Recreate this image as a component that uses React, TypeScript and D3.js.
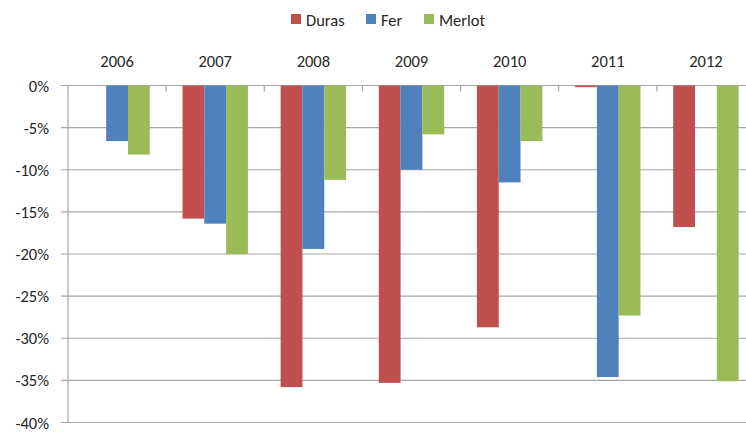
import React from "react";
import * as d3 from "d3";

const years = ["2006", "2007", "2008", "2009", "2010", "2011", "2012"];
const seriesNames = ["Duras", "Fer", "Merlot"];
const duras = [0, -15.8, -35.8, -35.3, -28.7, -0.2, -16.8];
const fer = [-6.6, -16.4, -19.4, -10.0, -11.5, -34.6, 0];
const merlot = [-8.2, -20.0, -11.2, -5.8, -6.6, -27.3, -35.1];
const yTicks = [0, -5, -10, -15, -20, -25, -30, -35, -40];
const colors = ["#C0504D", "#4F81BD", "#9BBB59"];

const W = 746;
const H = 432;
const FONT = "Carlito, Calibri, Lato, sans-serif";
const FS = 16.5;
const TEXT = "#262626";
const GRID = "#A6A6A6";

export default function App() {
  const values = [duras, fer, merlot];

  const x = d3.scaleBand().domain(years).range([68, 755]);
  const y = d3.scaleLinear().domain([0, -40]).range([85.5, 422.5]);

  // Excel-style gap width of 150%
  const barW = x.bandwidth() / 4.5;
  const groupStart = (x.bandwidth() - barW * 3) / 2;

  const legendX = [291, 366, 424];

  return (
    <svg
      width={W}
      height={H}
      style={{ position: "absolute", left: 0, top: 0, background: "#fff" }}
      fontFamily={FONT}
    >
      {/* legend */}
      {seriesNames.map((name, i) => (
        <g key={name}>
          <rect x={legendX[i]} y={14} width={10} height={10} fill={colors[i]} />
          <text x={legendX[i] + 15} y={26} fontSize={FS} fill={TEXT}>
            {name}
          </text>
        </g>
      ))}

      {/* gridlines + y labels */}
      {yTicks.map((t) => (
        <g key={t}>
          <line x1={61} x2={W} y1={y(t)} y2={y(t)} stroke={GRID} strokeWidth={1.2} />
          <text x={49} y={y(t) + 6} textAnchor="end" fontSize={FS} fill={TEXT}>
            {t + "%"}
          </text>
        </g>
      ))}
      <line x1={68} x2={68} y1={y(0)} y2={y(-40)} stroke={GRID} strokeWidth={1.2} />

      {/* category ticks on the zero line */}
      {years.map((yr) => (
        <line
          key={"t" + yr}
          x1={(x(yr) || 0) + x.bandwidth()}
          x2={(x(yr) || 0) + x.bandwidth()}
          y1={y(0)}
          y2={y(0) + 6}
          stroke={GRID}
          strokeWidth={1.2}
        />
      ))}

      {/* year labels */}
      {years.map((yr) => (
        <text
          key={"l" + yr}
          x={(x(yr) || 0) + x.bandwidth() / 2}
          y={66.5}
          textAnchor="middle"
          fontSize={FS}
          fill={TEXT}
        >
          {yr}
        </text>
      ))}

      {/* bars */}
      {values.map((vals, si) =>
        vals.map((v, i) => {
          if (v === 0) return null;
          const bx = (x(years[i]) || 0) + groupStart + si * barW;
          return (
            <rect
              key={si + "-" + i}
              x={bx}
              y={y(0)}
              width={barW}
              height={Math.max(1.5, y(v) - y(0))}
              fill={colors[si]}
            />
          );
        })
      )}
    </svg>
  );
}
